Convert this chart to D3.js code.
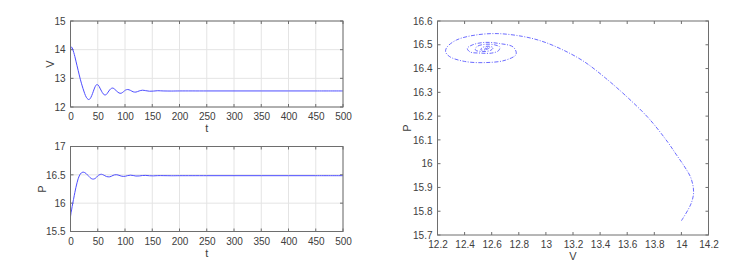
<!DOCTYPE html>
<html><head><meta charset="utf-8">
<script src="https://cdn.jsdelivr.net/npm/d3@7"></script>
<style>
body{margin:0;background:#fff;}
text{font-family:"Liberation Sans",Arial,Helvetica,sans-serif;}
</style></head>
<body><svg id="c" width="756" height="272"></svg>
<script>
// time samples
const tVals = [0,1,2,3,4,5,6,8,10,12,14,16,18,20,23,26,29,32,34,36,39,42,45,48,51,54,57,60,63,66,69,72,75,78,81,85,89,93,97,101,105,110,115,120,126,132,138,145,152,160,170,185,200,250,300,350,400,450,500];
const vVals = [14.00,14.07,14.09,14.07,14.02,13.96,13.90,13.76,13.60,13.44,13.28,13.12,12.97,12.83,12.64,12.47,12.34,12.27,12.26,12.29,12.40,12.55,12.70,12.78,12.76,12.66,12.55,12.46,12.42,12.44,12.52,12.60,12.65,12.66,12.62,12.55,12.49,12.48,12.53,12.59,12.61,12.58,12.53,12.52,12.56,12.585,12.57,12.55,12.555,12.568,12.56,12.557,12.56,12.56,12.56,12.56,12.56,12.56,12.56];
const pVals = [15.76,15.83,15.88,15.94,15.99,16.04,16.09,16.19,16.28,16.36,16.43,16.48,16.515,16.535,16.547,16.54,16.52,16.49,16.47,16.45,16.43,16.425,16.435,16.46,16.49,16.505,16.51,16.50,16.485,16.47,16.465,16.465,16.475,16.49,16.50,16.502,16.492,16.478,16.472,16.476,16.487,16.494,16.488,16.479,16.48,16.488,16.49,16.484,16.482,16.486,16.486,16.484,16.485,16.485,16.485,16.485,16.485,16.485,16.485];

const tTicks = [0,50,100,150,200,250,300,350,400,450,500];
const vTicksTop = [12,13,14,15];
const pTicksBottom = [15.5,16,16.5,17];
const vTicksPhase = [12.2,12.4,12.6,12.8,13,13.2,13.4,13.6,13.8,14,14.2];
const pTicksPhase = [15.7,15.8,15.9,16,16.1,16.2,16.3,16.4,16.5,16.6];

const svg = d3.select("#c");
const data = tVals.map((t,i)=>({t, v:vVals[i], p:pVals[i]}));
const boxColor = "#6e6e6e", textColor = "#404040", gridColor = "#e4e4e4";
const fmt = d => String(+d.toFixed(2));

function panel(opt){
  const {x0,x1,y0,y1,xDom,yDom,xT,yT,grid,xLab,yLab,yLabX} = opt;
  const x = d3.scaleLinear().domain(xDom).range([x0,x1]);
  const y = d3.scaleLinear().domain(yDom).range([y1,y0]);
  const g = svg.append("g");
  if(grid){
    g.selectAll(".gx").data(xT).join("line").attr("x1",d=>x(d)).attr("x2",d=>x(d))
      .attr("y1",y0).attr("y2",y1).attr("stroke",gridColor).attr("stroke-width",1);
    g.selectAll(".gy").data(yT).join("line").attr("y1",d=>y(d)).attr("y2",d=>y(d))
      .attr("x1",x0).attr("x2",x1).attr("stroke",gridColor).attr("stroke-width",1);
  }
  const tl = 3;
  const ax = d3.axisBottom(x).tickValues(xT).tickSize(0).tickPadding(6).tickFormat(fmt);
  const ay = d3.axisLeft(y).tickValues(yT).tickSize(0).tickPadding(5).tickFormat(fmt);
  const gx = g.append("g").attr("transform",`translate(0,${y1})`).call(ax);
  const gy = g.append("g").attr("transform",`translate(${x0},0)`).call(ay);
  [gx,gy].forEach(a=>{a.select(".domain").remove();
    a.selectAll("text").attr("fill",textColor).style("font-size","10px");});
  // inward ticks on all four sides
  g.selectAll(".tb").data(xT).join("line").attr("x1",d=>x(d)).attr("x2",d=>x(d))
    .attr("y1",y1).attr("y2",y1-tl).attr("stroke",boxColor);
  g.selectAll(".tt").data(xT).join("line").attr("x1",d=>x(d)).attr("x2",d=>x(d))
    .attr("y1",y0).attr("y2",y0+tl).attr("stroke",boxColor);
  g.selectAll(".tlft").data(yT).join("line").attr("y1",d=>y(d)).attr("y2",d=>y(d))
    .attr("x1",x0).attr("x2",x0+tl).attr("stroke",boxColor);
  g.selectAll(".trt").data(yT).join("line").attr("y1",d=>y(d)).attr("y2",d=>y(d))
    .attr("x1",x1).attr("x2",x1-tl).attr("stroke",boxColor);
  g.append("text").attr("x",(x0+x1)/2).attr("y",opt.xLabY).attr("text-anchor","middle")
    .attr("fill",textColor).style("font-size","11px").text(xLab);
  g.append("text").attr("transform",`translate(${yLabX},${(y0+y1)/2}) rotate(-90)`)
    .attr("text-anchor","middle").attr("fill",textColor).style("font-size","11px").text(yLab);
  return {x,y,g,box:()=>g.append("rect").attr("x",x0).attr("y",y0).attr("width",x1-x0)
    .attr("height",y1-y0).attr("fill","none").attr("stroke",boxColor).attr("stroke-width",1)};
}

// top: V(t)
const A = panel({x0:70.5,x1:343,y0:21,y1:107,xDom:[0,500],yDom:[12,15],xT:tTicks,yT:vTicksTop,
  grid:true,xLab:"t",yLab:"V",xLabY:132,yLabX:54});
A.g.append("path").datum(data).attr("fill","none").attr("stroke","#4d4dff").attr("stroke-width",1)
  .attr("d",d3.line().x(d=>A.x(d.t)).y(d=>A.y(d.v)).curve(d3.curveCatmullRom));
A.box();

// bottom: P(t)
const B = panel({x0:70.5,x1:343,y0:146.5,y1:231.5,xDom:[0,500],yDom:[15.5,17],xT:tTicks,yT:pTicksBottom,
  grid:true,xLab:"t",yLab:"P",xLabY:257,yLabX:46});
B.g.append("path").datum(data).attr("fill","none").attr("stroke","#4d4dff").attr("stroke-width",1)
  .attr("d",d3.line().x(d=>B.x(d.t)).y(d=>B.y(d.p)).curve(d3.curveCatmullRom));
B.box();

// right: phase V-P
const C = panel({x0:437.5,x1:708.5,y0:21,y1:235,xDom:[12.2,14.2],yDom:[15.7,16.6],xT:vTicksPhase,yT:pTicksPhase,
  grid:false,xLab:"V",yLab:"P",xLabY:260,yLabX:411});
C.g.append("path").datum(data).attr("fill","none").attr("stroke","#5a5aff").attr("stroke-width",0.9)
  .attr("stroke-dasharray","4,1.5,1,1.5")
  .attr("d",d3.line().x(d=>C.x(d.v)).y(d=>C.y(d.p)).curve(d3.curveCatmullRom));
C.box();
</script></body></html>
